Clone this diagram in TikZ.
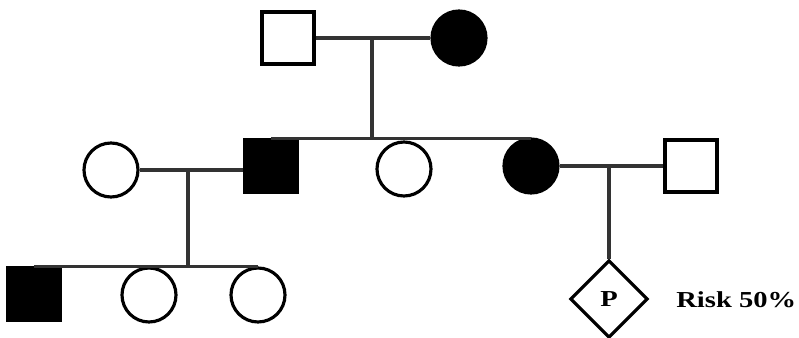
\documentclass[tikz,border=0pt]{standalone}
\usepackage{fontspec}
\setmainfont{Liberation Serif}
\newfontfamily\riskfont{Liberation Serif}[FakeStretch=1.25]
\usetikzlibrary{shapes.geometric}

\begin{document}
\begin{tikzpicture}[
  %% Individuals
  male/.style   ={draw, rectangle, minimum size=1.04cm, inner sep=0pt, line width=1.8pt, fill=white},
  female/.style ={draw, circle, minimum size=1.08cm, inner sep=0pt, line width=1.8pt, fill=white},
  aff/.style    ={fill=black},
  unkn/.style   ={draw, diamond, minimum size=1.55cm, inner sep=0pt, line width=1.8pt, fill=white,
                  font=\riskfont\bfseries\fontsize{13}{15}\selectfont},
  %% Lines
  rel/.style    ={line width=1.8pt, black!80}
]
\useasboundingbox (0,0) rectangle (15.98,-6.76);

%% -- GENERATION I ----------------------------------------------
\node[male]        (sq1) at (5.76, -0.76) {};
\node[female, aff] (fc1) at (9.18, -0.76) {};

\coordinate (m1) at (7.44, -0.76);
\draw[rel] (sq1.east) -- (fc1.west);

%% -- GENERATION II ---------------------------------------------
\node[female]      (lc2) at (2.22,  -3.40) {};
\node[male, aff]   (sq2) at (5.42,  -3.32) {};
\node[female]      (oc2) at (8.08,  -3.38) {};
\node[female, aff] (fc2) at (10.62, -3.32) {};
\node[male]        (sq4) at (13.82, -3.32) {};

%% sibship line across the tops, drop from parents
\draw[rel] (sq2.north) -- (sq2.north -| fc2.north);
\draw[rel] (m1) -- (m1 |- sq2.north);

%% left couple
\coordinate (m2) at (3.76, -3.42);
\draw[rel] (lc2.east) -- (lc2.east -| sq2.west);

%% right couple
\coordinate (m3) at (12.18, -3.34);
\draw[rel] (fc2.east) -- (fc2.east -| sq4.west);

%% -- GENERATION III --------------------------------------------
\node[male, aff] (sq3) at (0.68, -5.88) {};
\node[female]    (c3a) at (2.98, -5.90) {};
\node[female]    (c3b) at (5.16, -5.90) {};

\draw[rel] (sq3.north) -- (sq3.north -| c3b.north);
\draw[rel] (m2) -- (m2 |- sq3.north);

%% unborn child with risk
\node[unkn] (dia) at (12.18, -5.98) {P};
\draw[rel] (m3) -- (dia.north);

\node[anchor=west, font=\riskfont\bfseries\fontsize{13}{15}\selectfont, inner sep=0pt]
  (risk) at (13.52, -5.99) {Risk 50\%};

\end{tikzpicture}
\end{document}
